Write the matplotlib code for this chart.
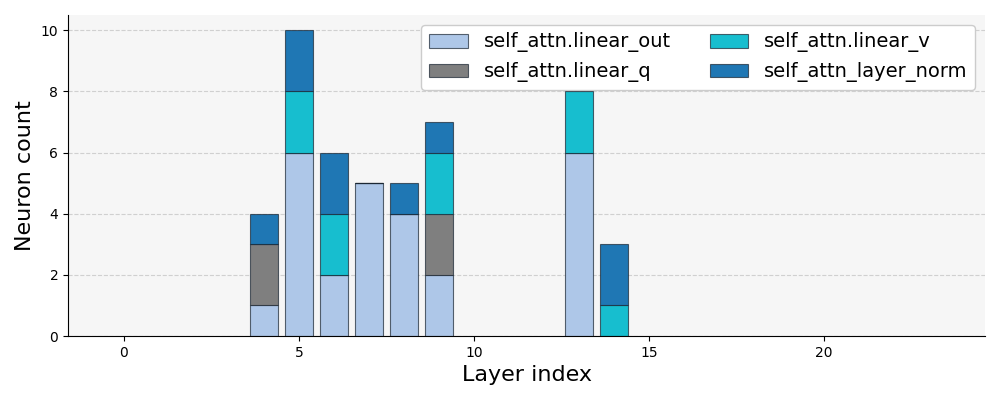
import matplotlib
matplotlib.use("Agg")
import matplotlib.pyplot as plt
from matplotlib.patches import Patch
import numpy as np

layers = list(range(24))
series_names = ["self_attn.linear_out", "self_attn.linear_q", "self_attn.linear_v", "self_attn_layer_norm"]
linear_out = {4: 1, 5: 6, 6: 2, 7: 5, 8: 4, 9: 2, 13: 6}
linear_q = {4: 2, 9: 2}
linear_v = {5: 2, 6: 2, 9: 2, 13: 2, 14: 1}
layer_norm = {4: 1, 5: 2, 6: 2, 8: 1, 9: 1, 14: 2}
colors = ["#aec7e8", "#7f7f7f", "#17becf", "#1f77b4"]
edge = (0.1, 0.15, 0.2, 0.7)

fig = plt.figure(figsize=(10, 4), dpi=100)
ax = fig.add_axes([0.068, 0.16, 0.917, 0.8025])
ax.set_facecolor("#f6f6f6")
ax.grid(axis="y", linestyle="--", color="#d0d0d0", linewidth=0.8)
ax.set_axisbelow(True)

bottom = np.zeros(len(layers))
handles = []
for name, d, c in zip(series_names, [linear_out, linear_q, linear_v, layer_norm], colors):
    vals = np.array([d.get(l, 0) for l in layers], dtype=float)
    lw = [0.8 if (v > 0 or b > 0) else 0.0 for v, b in zip(vals, bottom)]
    ax.bar(layers, vals, bottom=bottom, color=c,
           edgecolor=edge, linewidth=lw, width=0.8)
    handles.append(Patch(facecolor=c, edgecolor=edge, linewidth=0.8, label=name))
    bottom += vals

ax.spines["top"].set_visible(False)
ax.spines["right"].set_visible(False)
ax.set_xlabel("Layer index", fontsize=16)
ax.set_ylabel("Neuron count", fontsize=16)
ax.tick_params(labelsize=10)
ax.legend(handles=handles, ncol=2, fontsize=14, loc="upper right", framealpha=1.0)
fig.savefig("out.png")
